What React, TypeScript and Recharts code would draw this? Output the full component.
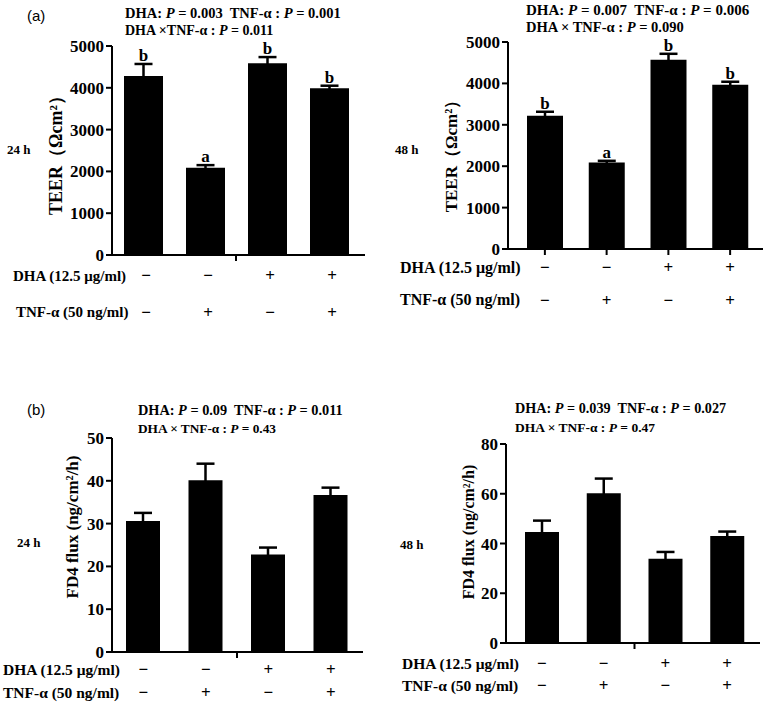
import { BarChart, Bar, XAxis, YAxis, ErrorBar, LabelList } from "recharts"

// treatment groups (DHA / TNF-α combinations)
const groups = ["g1", "g2", "g3", "g4"]
const dhaSigns = ["−", "−", "+", "+"]
const tnfSigns = ["−", "+", "−", "+"]

// (a) TEER
const teer24h = [4280, 2090, 4590, 3990]
const teer24hErr = [290, 60, 145, 60]
const teer24hLetters = ["b", "a", "b", "b"]
const teer48h = [3220, 2090, 4570, 3970]
const teer48hErr = [95, 40, 145, 70]
const teer48hLetters = ["b", "a", "b", "b"]
const teerTicks = [0, 1000, 2000, 3000, 4000, 5000]

// (b) FD4 flux
const fd24h = [30.6, 40.1, 22.8, 36.7]
const fd24hErr = [1.9, 3.9, 1.6, 1.7]
const fd48h = [44.6, 60.2, 33.9, 43.0]
const fd48hErr = [4.6, 5.9, 2.7, 1.8]
const fd24Ticks = [0, 10, 20, 30, 40, 50]
const fd48Ticks = [0, 20, 40, 60, 80]

const serif = "'Liberation Serif', 'Times New Roman', serif"
const sans = "'Liberation Sans', Arial, sans-serif"

const buildRows = (values: number[], errs: number[], letters?: string[]) =>
  groups.map((g, i) => ({ group: g, value: values[i], err: errs[i], letter: letters ? letters[i] : "" }))

const GroupTick = (props: any) => {
  const { x, y, payload, dhaDy, tnfDy, midTick, dx = 0 } = props
  const i = payload.index
  const half = payload.offset || 31
  return (
    <g>
      <text x={x + dx} y={y + dhaDy} textAnchor="middle" dominantBaseline="central"
        fontFamily={serif} fontWeight="bold" fontSize={17} fill="#000">
        {dhaSigns[i]}
      </text>
      <text x={x + dx} y={y + tnfDy} textAnchor="middle" dominantBaseline="central"
        fontFamily={serif} fontWeight="bold" fontSize={17} fill="#000">
        {tnfSigns[i]}
      </text>
      {midTick && i === 1 && (
        <line x1={x + half} x2={x + half} y1={y} y2={y + 6} stroke="#000" strokeWidth={2} />
      )}
    </g>
  )
}

const makeLetter = (values: number[], errs: number[]) => (props: any) => {
  const { index, value } = props
  const vb = props.viewBox || props
  const { x, y, width, height } = vb
  if (!value) return null
  const errPx = (errs[index] / values[index]) * height
  return (
    <text x={x + width / 2} y={y - errPx - 3} textAnchor="middle"
      fontFamily={serif} fontWeight="bold" fontSize={17} fill="#000">
      {value}
    </text>
  )
}

interface PanelProps {
  left: number
  top: number
  height: number
  margin: { top: number; right: number; left: number; bottom: number }
  values: number[]
  errs: number[]
  letters?: string[]
  ticks: number[]
  barSize: number
  padding: { left: number; right: number }
  xTicks: boolean
  dhaDy: number
  tnfDy: number
  signDx?: number
}

const Panel = (p: PanelProps) => {
  const data = buildRows(p.values, p.errs, p.letters)
  const tickSize = p.xTicks ? 6 : 0
  return (
    <div style={{ position: "absolute", left: p.left, top: p.top }}>
      <BarChart width={383} height={p.height} data={data} margin={p.margin} barCategoryGap={0}>
        <XAxis
          dataKey="group"
          padding={p.padding}
          axisLine={{ stroke: "#000", strokeWidth: 2 }}
          tickLine={p.xTicks ? { stroke: "#000", strokeWidth: 2 } : false}
          tickSize={tickSize}
          tickMargin={0}
          height={70}
          interval={0}
          tick={<GroupTick dhaDy={p.dhaDy - tickSize} tnfDy={p.tnfDy - tickSize} midTick={!p.xTicks} dx={p.signDx} />}
        />
        <YAxis
          width={60}
          domain={[p.ticks[0], p.ticks[p.ticks.length - 1]]}
          ticks={p.ticks}
          interval={0}
          axisLine={{ stroke: "#000", strokeWidth: 2 }}
          tickLine={{ stroke: "#000", strokeWidth: 2 }}
          tickSize={6}
          tickMargin={2}
          tick={{ fill: "#000", fontSize: 17, fontWeight: "bold", fontFamily: serif }}
        />
        <Bar dataKey="value" fill="#000" barSize={p.barSize} isAnimationActive={false}>
          <ErrorBar dataKey="err" stroke="#000" strokeWidth={2.5} width={9} isAnimationActive={false} />
          {p.letters && (
            <LabelList dataKey="letter" content={makeLetter(p.values, p.errs)} />
          )}
        </Bar>
      </BarChart>
    </div>
  )
}

const Txt = ({ x, y, size = 13, bold = true, font = serif, children }: any) => (
  <div
    style={{
      position: "absolute",
      left: x,
      top: y,
      transform: "translateY(-50%)",
      fontFamily: font,
      fontSize: size,
      fontWeight: bold ? "bold" : "normal",
      lineHeight: 1,
      whiteSpace: "nowrap",
      color: "#000",
    }}
  >
    {children}
  </div>
)

const VTxt = ({ cx, cy, size, children }: any) => (
  <div
    style={{
      position: "absolute",
      left: cx,
      top: cy,
      transform: "translate(-50%, -50%) rotate(-90deg)",
      fontFamily: serif,
      fontSize: size,
      fontWeight: "bold",
      lineHeight: 1,
      whiteSpace: "nowrap",
      color: "#000",
    }}
  >
    {children}
  </div>
)

const PLine = ({ a, b }: { a: string; b: string }) => (
  <>
    DHA: <i>P</i> = {a}&nbsp; TNF-α : <i>P</i> = {b}
  </>
)

const App = () => {
  return (
    <div style={{ position: "absolute", left: 0, top: 0, width: 766, height: 707, background: "#fff", overflow: "hidden" }}>
      <Panel left={0} top={0} height={325} margin={{ top: 46, right: 18, left: 52, bottom: 0 }}
        values={teer24h} errs={teer24hErr} letters={teer24hLetters} ticks={teerTicks}
        barSize={39} padding={{ left: 0, right: 5 }} xTicks={false} dhaDy={20} tnfDy={57} signDx={3} />
      <Panel left={383} top={0} height={319} margin={{ top: 42, right: 3, left: 65, bottom: 0 }}
        values={teer48h} errs={teer48hErr} letters={teer48hLetters} ticks={teerTicks}
        barSize={36} padding={{ left: 6, right: 2 }} xTicks={true} dhaDy={18} tnfDy={51} />
      <Panel left={0} top={360} height={362} margin={{ top: 78, right: 20, left: 52, bottom: 0 }}
        values={fd24h} errs={fd24hErr} ticks={fd24Ticks}
        barSize={34} padding={{ left: 0, right: 1 }} xTicks={false} dhaDy={17} tnfDy={40} />
      <Panel left={383} top={360} height={353} margin={{ top: 84, right: 6, left: 63, bottom: 0 }}
        values={fd48h} errs={fd48hErr} ticks={fd48Ticks}
        barSize={34} padding={{ left: 5, right: 2 }} xTicks={false} dhaDy={20} tnfDy={42} />

      {/* panel (a) texts */}
      <Txt x={27} y={15} size={15} bold={false} font={sans}>(a)</Txt>
      <Txt x={125} y={13} size={14.5}><PLine a="0.003" b="0.001" /></Txt>
      <Txt x={125} y={31} size={14}>DHA ×TNF-α : <i>P</i> = 0.011</Txt>
      <Txt x={7} y={149}>24 h</Txt>
      <VTxt cx={56} cy={151} size={18}>TEER（Ωcm²）</VTxt>
      <Txt x={13} y={276} size={15}>DHA (12.5 μg/ml)</Txt>
      <Txt x={16} y={312} size={15}>TNF-α (50 ng/ml)</Txt>

      <Txt x={526} y={10} size={15}><PLine a="0.007" b="0.006" /></Txt>
      <Txt x={526} y={27} size={14.5}>DHA × TNF-α : <i>P</i> = 0.090</Txt>
      <Txt x={395} y={149}>48 h</Txt>
      <VTxt cx={451} cy={152} size={17}>TEER（Ωcm²）</VTxt>
      <Txt x={400} y={268} size={16}>DHA (12.5 μg/ml)</Txt>
      <Txt x={400} y={300} size={16}>TNF-α (50 ng/ml)</Txt>

      {/* panel (b) texts */}
      <Txt x={27} y={409} size={15} bold={false} font={sans}>(b)</Txt>
      <Txt x={138} y={410} size={14.3}><PLine a="0.09" b="0.011" /></Txt>
      <Txt x={138} y={429} size={13.3}>DHA × TNF-α : <i>P</i> = 0.43</Txt>
      <Txt x={17} y={542}>24 h</Txt>
      <VTxt cx={72} cy={527} size={17}>FD4 flux (ng/cm²/h)</VTxt>
      <Txt x={3} y={670} size={15.5}>DHA (12.5 μg/ml)</Txt>
      <Txt x={3} y={693} size={15.5}>TNF-α (50 ng/ml)</Txt>

      <Txt x={515} y={408} size={14.2}><PLine a="0.039" b="0.027" /></Txt>
      <Txt x={515} y={428} size={13.5}>DHA × TNF-α : <i>P</i> = 0.47</Txt>
      <Txt x={400} y={544}>48 h</Txt>
      <VTxt cx={469} cy={532} size={16}>FD4 flux (ng/cm²/h)</VTxt>
      <Txt x={402} y={664} size={15.5}>DHA (12.5 μg/ml)</Txt>
      <Txt x={402} y={686} size={15.5}>TNF-α (50 ng/ml)</Txt>
    </div>
  )
}

export default App
